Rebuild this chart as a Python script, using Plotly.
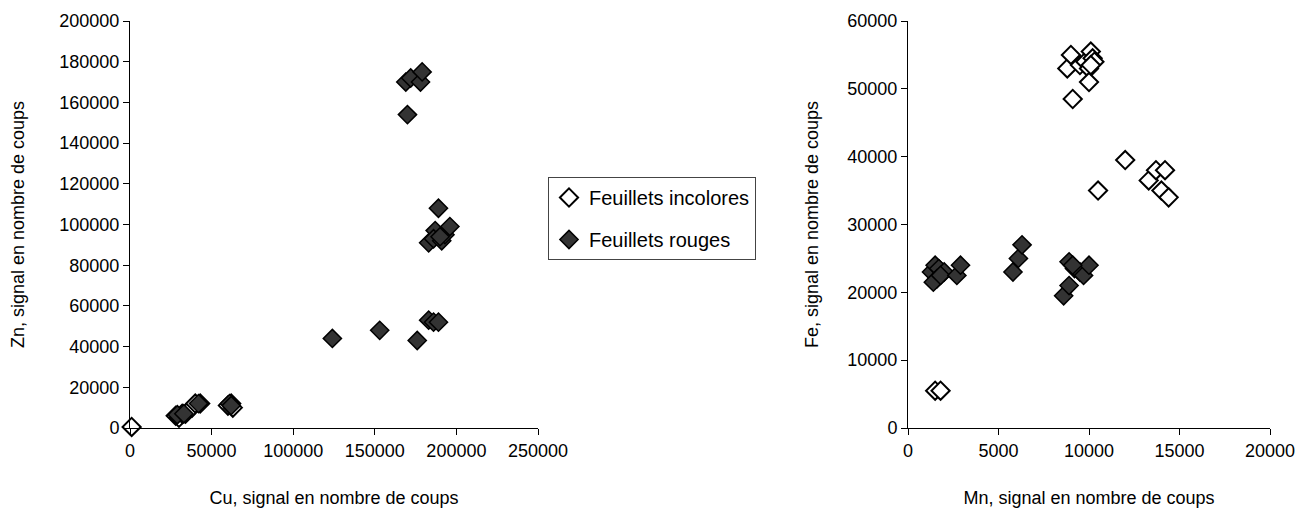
import plotly.graph_objects as go

# Left panel: Cu vs Zn
cu_incol = [1000, 28000, 30000, 32000, 34000, 38000, 40000, 43000, 60000, 62000, 63000]
zn_incol = [500, 6000, 5000, 7000, 7000, 10000, 12000, 12000, 11000, 12000, 10000]
cu_rouge = [169000, 172000, 178000, 179000, 170000,
            189000, 187000, 183000, 186000, 191000, 193000, 196000, 190000,
            124000, 153000, 176000, 183000, 186000, 189000,
            29000, 33000, 42000, 61000, 62000]
zn_rouge = [170000, 172000, 170000, 175000, 154000,
            108000, 97000, 91000, 93000, 92000, 95000, 99000, 94000,
            44000, 48000, 43000, 53000, 52000, 52000,
            6500, 7000, 12000, 12000, 11000]

# Right panel: Mn vs Fe
mn_incol = [8800, 9000, 9100, 9500, 9800, 10000, 10100, 10000, 10200, 10300, 10100,
            12000, 10500, 13300, 13700, 14000, 14200, 14400,
            1500, 1800]
fe_incol = [53000, 55000, 48500, 53500, 54000, 53000, 55500, 51000, 54500, 54000, 53500,
            39500, 35000, 36500, 38000, 35000, 38000, 34000,
            5500, 5500]
mn_rouge = [1300, 1500, 1700, 2000, 1600, 1400, 1800,
            2700, 2900,
            5800, 6100, 6300,
            8600, 8900, 8900, 9200, 9500, 9700, 10000, 9100]
fe_rouge = [23000, 24000, 23500, 23000, 22000, 21500, 22500,
            22500, 24000,
            23000, 25000, 27000,
            19500, 21000, 24500, 23500, 23000, 22500, 24000, 24000]

label_incol = "Feuillets incolores"
label_rouge = "Feuillets rouges"

hollow = dict(symbol="diamond", size=14, color="white", line=dict(color="black", width=2))
filled = dict(symbol="diamond", size=14, color="#333333", line=dict(color="black", width=1.5))

fig = go.Figure()
fig.add_trace(go.Scatter(x=cu_incol, y=zn_incol, mode="markers", marker=hollow, cliponaxis=False,
                         name=label_incol, legendgroup="a", xaxis="x", yaxis="y"))
fig.add_trace(go.Scatter(x=cu_rouge, y=zn_rouge, mode="markers", marker=filled, cliponaxis=False,
                         name=label_rouge, legendgroup="b", xaxis="x", yaxis="y"))
fig.add_trace(go.Scatter(x=mn_incol, y=fe_incol, mode="markers", marker=hollow, cliponaxis=False,
                         name=label_incol, legendgroup="a", showlegend=False, xaxis="x2", yaxis="y2"))
fig.add_trace(go.Scatter(x=mn_rouge, y=fe_rouge, mode="markers", marker=filled, cliponaxis=False,
                         name=label_rouge, legendgroup="b", showlegend=False, xaxis="x2", yaxis="y2"))

FAM = "Arial, Liberation Sans, sans-serif"
font = dict(family=FAM, size=18, color="black")
axis_common = dict(showgrid=False, zeroline=False, showline=True, linecolor="black",
                   linewidth=1, ticks="outside", ticklen=6, tickcolor="black",
                   tickfont=font, title_font=font, tickformat="d", automargin=False)

H = 514.0
W = 1301.0
ydom = [(H - 428) / H, (H - 21) / H]

fig.update_layout(
    width=1301, height=514,
    margin=dict(l=0, r=0, t=0, b=0),
    paper_bgcolor="white", plot_bgcolor="white",
    font=font,
    xaxis=dict(axis_common, domain=[130 / W, 538 / W], range=[0, 250000], dtick=50000,
               anchor="y", title=dict(text="Cu, signal en nombre de coups", standoff=31)),
    yaxis=dict(axis_common, domain=ydom, range=[0, 200000], dtick=20000,
               anchor="x", title=dict(text="Zn, signal en nombre de coups", standoff=30)),
    xaxis2=dict(axis_common, domain=[908 / W, 1270 / W], range=[0, 20000], dtick=5000,
                anchor="y2", title=dict(text="Mn, signal en nombre de coups", standoff=31)),
    yaxis2=dict(axis_common, domain=ydom, range=[0, 60000], dtick=10000,
                anchor="x2", title=dict(text="Fe, signal en nombre de coups", standoff=24)),
    legend=dict(x=548 / W, y=(H - 177) / H, xanchor="left", yanchor="top",
                bordercolor="#444444", borderwidth=1, bgcolor="white",
                font=dict(family=FAM, size=20, color="black"),
                traceorder="grouped", tracegroupgap=13),
    showlegend=True,
)

fig.write_html("out.html", post_script="document.body.style.margin='0';",
               config={"displayModeBar": False})
